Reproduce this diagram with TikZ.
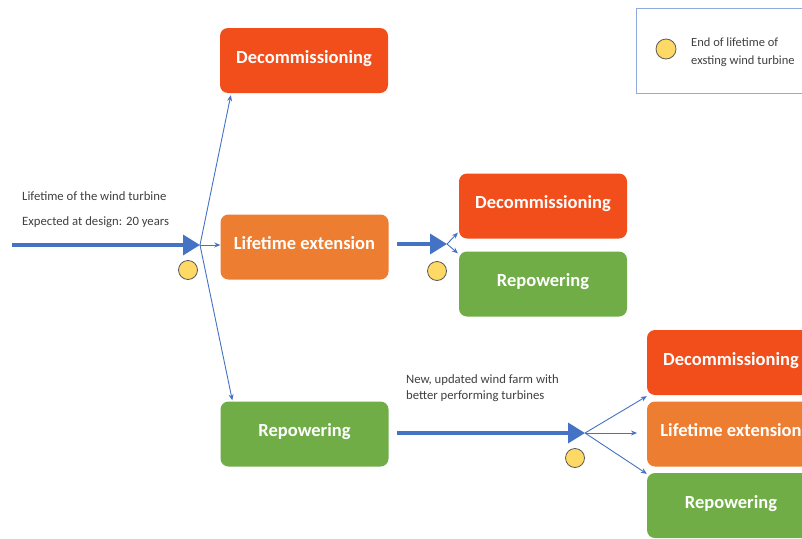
\documentclass[tikz,border=0pt]{standalone}
\usepackage{fontspec}
\setmainfont{Carlito}
\usetikzlibrary{arrows.meta,calc}
\definecolor{cred}{HTML}{F24E1B}
\definecolor{corange}{HTML}{ED7D31}
\definecolor{cgreen}{HTML}{70AD47}
\definecolor{cblue}{HTML}{4472C4}
\definecolor{cyel}{HTML}{FFD966}
\definecolor{ctext}{HTML}{404040}
\definecolor{cframe}{HTML}{8FAADC}
\begin{document}
\begin{tikzpicture}[x=1pt,y=-1pt,
  box/.style={rounded corners=8pt, minimum width=168pt, minimum height=65pt, text=white,
    font=\fontsize{18.5}{20}\selectfont\bfseries, inner sep=0pt, text height=5.6pt, text depth=0pt},
  thick arrow/.style={draw=cblue, line width=3.5pt, -{Triangle[length=17pt,width=20pt]}},
  thin arrow/.style={draw=cblue, line width=0.9pt, -{Stealth[length=6pt,width=5pt]}},
  endmark/.style={circle, draw=gray!70!black, fill=cyel, line width=0.8pt, minimum size=19pt, inner sep=0pt},
  note/.style={text=ctext, font=\fontsize{12.7}{16}\selectfont, anchor=west, inner sep=0pt}]
\useasboundingbox (0,0) rectangle (802,538);
\clip (0,0) rectangle (802,538);
\fill[white] (0,0) rectangle (802,538);

% legend
\node[draw=cframe, line width=1pt, minimum width=200pt, minimum height=85pt, anchor=north west] (legend) at (636,8) {};
\node[endmark, minimum size=20pt] (lc) at (666,49) {};
\node[note, align=left, font=\fontsize{12.5}{18.5}\selectfont] (lt) at (691,52) {End of lifetime of\\exsting wind turbine};

% boxes
\node[box, fill=cred] (d1) at (304,60.5) {Decommissioning};
\node[box, fill=corange] (l1) at (304.5,247) {Lifetime extension};
\node[box, fill=cgreen] (r1) at (304.5,434) {Repowering};
\node[box, fill=cred] (d2) at (543,206) {Decommissioning};
\node[box, fill=cgreen] (r2) at (543,284) {Repowering};
\node[box, fill=cred] (d3) at (731,362.5) {Decommissioning};
\node[box, fill=corange] (l3) at (731,434) {Lifetime extension};
\node[box, fill=cgreen] (r3) at (731,505.5) {Repowering};

% texts
\node[note] (t1) at (22,196) {Lifetime of the wind turbine};
\node[note] (t2) at (22,222) {Expected at design: 20 years};
\node[note, align=left] (t3) at (406,388) {New, updated wind farm with\\better performing turbines};

% first stage
\coordinate (s1) at (12,245);
\coordinate (j1) at (200,245);
\draw[thick arrow] (s1) -- (j1);
\node[endmark] (c1) at (188,270) {};
\draw[thin arrow] (j1) -- ($(d1.south west)+(11,2)$);
\draw[thin arrow] (j1) -- (j1 -| l1.west);
\draw[thin arrow] (j1) -- ($(r1.north west)+(12,-1)$);

% second stage
\coordinate (s2) at (397,244);
\coordinate (j2) at (447,244);
\draw[thick arrow] (s2) -- (j2);
\node[endmark] (c2) at (437,271) {};
\draw[thin arrow] (j2) -- ($(d2.south west)+(-1,-6)$);
\draw[thin arrow] (j2) -- ($(r2.north west)+(-1,2)$);

% third stage
\coordinate (s3) at (397,433);
\coordinate (j3) at (585,433);
\draw[thick arrow] (s3) -- (j3);
\node[endmark] (c3) at (575,458) {};
\draw[thin arrow] (j3) -- ($(d3.south west)+(0,1)$);
\draw[thin arrow] (j3) -- (j3 -| 637,0);
\draw[thin arrow] (j3) -- ($(r3.north west)+(0,1)$);
\end{tikzpicture}
\end{document}
